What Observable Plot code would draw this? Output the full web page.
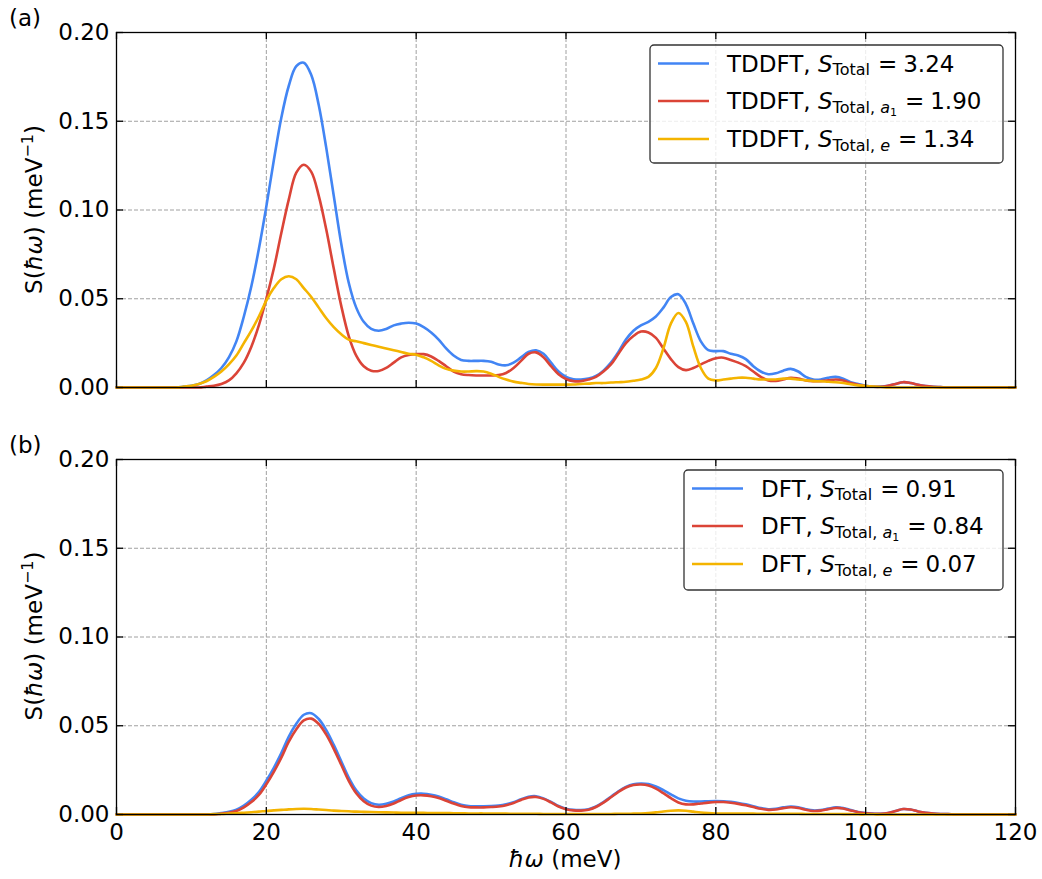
<!DOCTYPE html>
<html><head><meta charset="utf-8">
<script src="https://cdn.jsdelivr.net/npm/d3@7"></script>
<script src="https://cdn.jsdelivr.net/npm/@observablehq/plot@0.6"></script>
<style>
body{margin:0;background:#fff;font-family:"DejaVu Sans",sans-serif;}
#wrap{position:relative;width:1042px;height:879px;overflow:hidden;}
#wrap svg{position:absolute;left:0;}
</style></head><body><div id="wrap"></div>
<script>
// energy grid (meV)
const energy = [
0,1,2,3,4,5,6,7,8,9,10,11,12,13,14,15,16,17,18,19,
20,21,22,23,24,25,26,27,28,29,30,31,32,33,34,35,36,37,38,39,
40,41,42,43,44,45,46,47,48,49,50,51,52,53,54,55,56,57,58,59,
60,61,62,63,64,65,66,67,68,69,70,71,72,73,74,75,76,77,78,79,
80,81,82,83,84,85,86,87,88,89,90,91,92,93,94,95,96,97,98,99,
100,101,102,103,104,105,106,107,108,109,110,111,112,113,114,115,116,117,118,119,120];

// Panel (a): TDDFT
const tddftTotal = [
0,0,0,0,0,0,0,0,0,0.0005,
0.001,0.002,0.004,0.007,0.011,0.017,0.026,0.040,0.057,0.078,
0.102,0.128,0.152,0.170,0.181,0.183,0.176,0.159,0.135,0.108,
0.081,0.059,0.045,0.037,0.033,0.032,0.033,0.035,0.036,0.0365,
0.036,0.034,0.031,0.027,0.022,0.018,0.0155,0.015,0.015,0.015,
0.0145,0.013,0.0125,0.014,0.017,0.020,0.021,0.019,0.014,0.009,
0.006,0.0047,0.0045,0.005,0.0065,0.0095,0.014,0.020,0.027,0.032,
0.035,0.037,0.040,0.045,0.051,0.0525,0.047,0.036,0.026,0.021,
0.0205,0.0205,0.019,0.018,0.016,0.012,0.009,0.0075,0.008,0.0095,
0.0105,0.009,0.006,0.0045,0.0045,0.0055,0.006,0.005,0.003,0.002,
0.001,0.0005,0.0005,0.001,0.002,0.003,0.0025,0.0015,0.0008,0.0004,
0.0002,0,0,0,0,0,0,0,0,0,0];
const tddftA1 = [
0,0,0,0,0,0,0,0,0,0,
0,0,0.0005,0.001,0.002,0.004,0.008,0.014,0.023,0.035,
0.050,0.067,0.087,0.106,0.121,0.1255,0.1215,0.108,0.089,0.067,
0.046,0.029,0.018,0.012,0.0095,0.0093,0.011,0.014,0.017,0.0183,
0.0188,0.0188,0.0175,0.015,0.012,0.009,0.0075,0.007,0.0068,0.0068,
0.0068,0.007,0.0082,0.011,0.015,0.019,0.0198,0.017,0.012,0.0075,
0.0048,0.0036,0.0036,0.0045,0.006,0.009,0.013,0.019,0.025,0.029,
0.0315,0.031,0.028,0.022,0.016,0.0115,0.0098,0.011,0.013,0.015,
0.0165,0.0168,0.0155,0.014,0.012,0.009,0.006,0.004,0.0037,0.0045,
0.0055,0.005,0.004,0.0036,0.0036,0.004,0.0045,0.004,0.0025,0.0015,
0.0008,0.0004,0.0004,0.001,0.002,0.003,0.0025,0.0015,0.0008,0.0004,
0.0002,0,0,0,0,0,0,0,0,0,0];
const tddftE = [
0,0,0,0,0,0,0,0,0,0.0005,
0.001,0.002,0.0035,0.006,0.009,0.013,0.018,0.025,0.032,0.040,
0.049,0.056,0.061,0.0627,0.061,0.056,0.051,0.045,0.039,0.034,
0.030,0.027,0.026,0.025,0.024,0.023,0.022,0.021,0.020,0.019,
0.0185,0.017,0.015,0.0125,0.0105,0.0095,0.009,0.009,0.0092,0.009,
0.0078,0.006,0.0045,0.0033,0.0026,0.002,0.0017,0.0016,0.0016,0.0016,
0.0016,0.0017,0.002,0.0022,0.0025,0.0025,0.0028,0.003,0.0032,0.0038,
0.0045,0.006,0.011,0.022,0.036,0.042,0.037,0.023,0.011,0.005,
0.004,0.0045,0.005,0.0055,0.0055,0.005,0.0045,0.0045,0.0045,0.005,
0.005,0.0045,0.004,0.0036,0.0035,0.0032,0.003,0.0025,0.0018,0.0012,
0.0008,0.0005,0.0003,0,0,0,0,0,0,0,
0,0,0,0,0,0,0,0,0,0,0];

// Panel (b): DFT
const dftTotal = [
0,0,0,0,0,0,0,0,0,0,
0,0,0,0.0002,0.0008,0.0015,0.0027,0.005,0.0083,0.0126,
0.019,0.0263,0.0346,0.0439,0.0511,0.0562,0.0571,0.0538,0.0475,0.0392,
0.030,0.0208,0.0136,0.009,0.0064,0.0055,0.006,0.0073,0.0092,0.0108,
0.0116,0.0117,0.0111,0.0101,0.0086,0.0069,0.0055,0.0047,0.0046,0.0046,
0.0047,0.005,0.0057,0.0069,0.0086,0.010,0.0103,0.0091,0.0071,0.0048,
0.0033,0.0026,0.0025,0.003,0.0045,0.007,0.010,0.0131,0.0156,0.0171,
0.0175,0.0172,0.0158,0.0137,0.0113,0.0091,0.0078,0.0073,0.0073,0.0075,
0.0076,0.0075,0.0071,0.0065,0.0057,0.0047,0.0036,0.003,0.0032,0.004,
0.0045,0.0041,0.003,0.0023,0.0025,0.0033,0.004,0.0036,0.0025,0.0014,
0.0008,0.0005,0.0004,0.0009,0.002,0.0031,0.0028,0.0017,0.0009,0.0005,
0.0003,0.0002,0,0,0,0,0,0,0,0,0];
const dftA1 = [
0,0,0,0,0,0,0,0,0,0,
0,0,0,0,0.0005,0.001,0.002,0.004,0.007,0.011,
0.017,0.024,0.032,0.041,0.048,0.053,0.054,0.051,0.045,0.037,
0.028,0.019,0.012,0.0075,0.005,0.0042,0.0048,0.0062,0.0082,0.0098,
0.0107,0.0108,0.0103,0.0093,0.0078,0.0062,0.0048,0.0041,0.004,0.004,
0.0042,0.0045,0.0052,0.0065,0.0082,0.0096,0.0099,0.0088,0.0068,0.0045,
0.003,0.0023,0.0022,0.0027,0.0042,0.0067,0.0097,0.0127,0.0152,0.0166,
0.0169,0.0164,0.0146,0.012,0.0092,0.0068,0.0057,0.0057,0.0062,0.0067,
0.007,0.007,0.0066,0.006,0.0052,0.0042,0.0032,0.0026,0.0028,0.0036,
0.0041,0.0037,0.0027,0.002,0.0022,0.003,0.0037,0.0034,0.0023,0.0013,
0.0007,0.0004,0.0004,0.0009,0.002,0.0031,0.0028,0.0017,0.0009,0.0005,
0.0003,0.0002,0,0,0,0,0,0,0,0,0];
const dftE = [
0,0,0,0,0,0,0,0,0,0,
0,0,0,0.0002,0.0003,0.0005,0.0007,0.001,0.0013,0.0016,
0.002,0.0023,0.0026,0.0029,0.0031,0.0032,0.0031,0.0028,0.0025,0.0022,
0.002,0.0018,0.0016,0.0015,0.0014,0.0013,0.0012,0.0011,0.001,0.001,
0.0009,0.0009,0.0008,0.0008,0.0008,0.0007,0.0007,0.0006,0.0006,0.0006,
0.0005,0.0005,0.0005,0.0004,0.0004,0.0004,0.0004,0.0003,0.0003,0.0003,
0.0003,0.0003,0.0003,0.0003,0.0003,0.0003,0.0003,0.0004,0.0004,0.0005,
0.0006,0.0008,0.0012,0.0017,0.0021,0.0023,0.0021,0.0016,0.0011,0.0008,
0.0006,0.0005,0.0005,0.0005,0.0005,0.0005,0.0004,0.0004,0.0004,0.0004,
0.0004,0.0004,0.0003,0.0003,0.0003,0.0003,0.0003,0.0002,0.0002,0.0001,
0.0001,0.0001,0,0,0,0,0,0,0,0,
0,0,0,0,0,0,0,0,0,0,0];

const xTicks = [0, 20, 40, 60, 80, 100, 120];
const yTicks = [0, 0.05, 0.10, 0.15, 0.20];
const seriesKeys = ["total", "a1", "e"];
const seriesColors = ["#4285F4", "#DB4437", "#F4B400"];
const methodsA = "TDDFT";
const methodsB = "DFT";
const sValuesA = ["3.24", "1.90", "1.34"];
const sValuesB = ["0.91", "0.84", "0.07"];
const panelLabels = ["(a)", "(b)"];

const FONT = "DejaVu Sans";
const FS = 23;

function rowsOf(arrs) {
  const rows = [];
  arrs.forEach((arr, k) => arr.forEach((v, i) => rows.push({x: energy[i], y: v, s: seriesKeys[k]})));
  return rows;
}

function panel({arrs, height, mt, mb, showX}) {
  const tickLenY = 0.2 * 7 / 355, tickLenX = 120 * 7 / 899;
  const tickStyle = {stroke: "#000", strokeWidth: 1.3};
  const marks = [
    Plot.ruleX(xTicks.slice(1, -1), {x: d => d, stroke: "#a0a0a0", strokeWidth: 1, strokeDasharray: "4,2"}),
    Plot.ruleY(yTicks.slice(1, -1), {y: d => d, stroke: "#a0a0a0", strokeWidth: 1, strokeDasharray: "4,2"}),
    Plot.line(rowsOf(arrs), {x: "x", y: "y", stroke: "s", z: "s", strokeWidth: 2.6, curve: "catmull-rom"}),
    Plot.frame({stroke: "#000", strokeWidth: 1.3}),
    Plot.ruleX(xTicks, {x: d => d, y1: 0, y2: tickLenY, ...tickStyle}),
    Plot.ruleX(xTicks, {x: d => d, y1: 0.2 - tickLenY, y2: 0.2, ...tickStyle}),
    Plot.ruleY(yTicks, {y: d => d, x1: 0, x2: tickLenX, ...tickStyle}),
    Plot.ruleY(yTicks, {y: d => d, x1: 120 - tickLenX, x2: 120, ...tickStyle}),
    Plot.axisY(yTicks, {tickSize: 0, tickPadding: 7, tickFormat: d => d.toFixed(2), label: null, fontSize: FS})
  ];
  if (showX) marks.push(Plot.axisX(xTicks, {tickSize: 0, tickPadding: 9, label: null, fontSize: FS}));
  return Plot.plot({
    width: 1042, height, marginLeft: 116, marginRight: 27, marginTop: mt, marginBottom: mb,
    style: {fontFamily: FONT, fontSize: FS + "px", background: "transparent", color: "#000"},
    x: {domain: [0, 120], axis: null},
    y: {domain: [0, 0.2], axis: null},
    color: {domain: seriesKeys, range: seriesColors},
    marks
  });
}

function yLabel(svg, cx, cy) {
  const t = d3.select(svg).append("text")
    .attr("transform", `translate(${cx},${cy}) rotate(-90)`)
    .attr("text-anchor", "middle").attr("font-family", FONT).attr("font-size", FS).attr("fill", "#000");
  t.append("tspan").text("S(");
  t.append("tspan").attr("font-style", "italic").text("ħω");
  t.append("tspan").text(") (meV");
  t.append("tspan").attr("font-size", 16).attr("dy", -9).text("−1");
  t.append("tspan").attr("dy", 9).text(")");
}

function legend(svg, {x, y, w, h, method, values}) {
  const g = d3.select(svg).append("g").attr("font-family", FONT).attr("fill", "#000").attr("text-anchor", "start");
  g.append("rect").attr("x", x).attr("y", y).attr("width", w).attr("height", h)
    .attr("rx", 4).attr("fill", "#fff").attr("fill-opacity", 0.8)
    .attr("stroke", "#333").attr("stroke-width", 1.3);
  const rowY = [18.5, 56, 94];
  const subs = [null, "a", "e"];
  values.forEach((v, k) => {
    const ry = y + rowY[k];
    g.append("line").attr("x1", x + 8).attr("x2", x + 59).attr("y1", ry).attr("y2", ry)
      .attr("stroke", seriesColors[k]).attr("stroke-width", 2.6);
    const t = g.append("text").attr("x", x + 77).attr("y", ry + 8.4).attr("font-size", FS).attr("text-anchor", "start");
    t.append("tspan").text(method + ", ");
    t.append("tspan").attr("font-style", "italic").text("S");
    t.append("tspan").attr("font-size", 16).attr("dy", 3.5).text("Total");
    let back = -3.5;
    if (subs[k]) {
      t.append("tspan").attr("font-size", 16).text(", ");
      t.append("tspan").attr("font-size", 16).attr("font-style", "italic").text(subs[k]);
      if (subs[k] === "a") {
        t.append("tspan").attr("font-size", 11).attr("dy", 3.5).text("1");
        back = -7;
      }
    }
    t.append("tspan").attr("dy", back).attr("dx", 8).text("=");
    t.append("tspan").attr("dx", 6).text(v);
  });
}

function label(svg, x, y, s) {
  d3.select(svg).append("text").attr("x", x).attr("y", y).attr("font-family", FONT)
    .attr("text-anchor", "start").attr("font-size", FS).attr("fill", "#000").text(s);
}

const wrap = document.getElementById("wrap");

const svgA = panel({arrs: [tddftTotal, tddftA1, tddftE], height: 420, mt: 32, mb: 33, showX: false});
svgA.style.top = "0px";
yLabel(svgA, 42, 209.5);
legend(svgA, {x: 650, y: 45, w: 353, h: 118, method: methodsA, values: sValuesA});
label(svgA, 9, 26, panelLabels[0]);
wrap.appendChild(svgA);

const svgB = panel({arrs: [dftTotal, dftA1, dftE], height: 459, mt: 39, mb: 65, showX: true});
svgB.style.top = "420px";
yLabel(svgB, 42, 216);
legend(svgB, {x: 684, y: 50, w: 319, h: 120, method: methodsB, values: sValuesB});
label(svgB, 9, 33, panelLabels[1]);
{
  const t = d3.select(svgB).append("text").attr("x", 565).attr("y", 447).attr("text-anchor", "middle")
    .attr("font-family", FONT).attr("font-size", FS).attr("fill", "#000");
  t.append("tspan").attr("font-style", "italic").text("ħω");
  t.append("tspan").text(" (meV)");
}
wrap.appendChild(svgB);
</script>
</body></html>
